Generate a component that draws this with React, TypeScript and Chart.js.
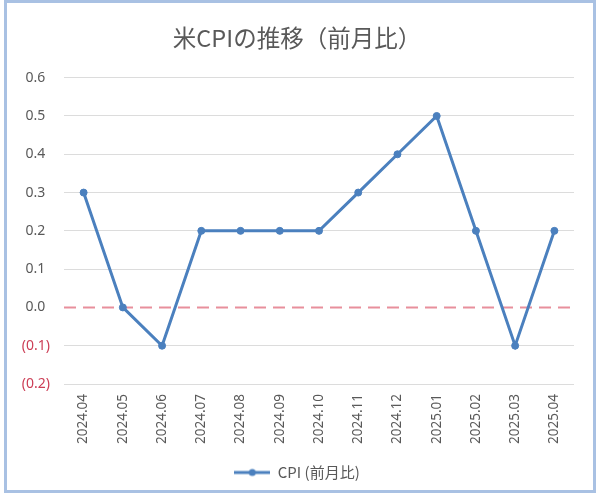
import React, { useEffect, useRef } from "react";
import { Chart, registerables } from "chart.js";

Chart.register(...registerables);

const TITLE = "米CPIの推移（前月比）";
const SERIES_NAME = "CPI (前月比)";
const months = [
  "2024.04", "2024.05", "2024.06", "2024.07", "2024.08", "2024.09", "2024.10",
  "2024.11", "2024.12", "2025.01", "2025.02", "2025.03", "2025.04",
];
const cpiMoM = [0.3, 0.0, -0.1, 0.2, 0.2, 0.2, 0.2, 0.3, 0.4, 0.5, 0.2, -0.1, 0.2];
const yMin = -0.2;
const yMax = 0.6;
const yStep = 0.1;
const referenceValue = 0;

const LINE_COLOR = "#4b80be";
const TEXT_COLOR = "#595959";
const NEG_COLOR = "#cc3d55";
const GRID_COLOR = "#dcdcdc";
const ZERO_COLOR = "#e88f9c";

function makeLegendIcon(): HTMLCanvasElement {
  const c = document.createElement("canvas");
  c.width = 36;
  c.height = 10;
  const g = c.getContext("2d")!;
  g.strokeStyle = LINE_COLOR;
  g.lineWidth = 3;
  g.beginPath();
  g.moveTo(0, 5);
  g.lineTo(36, 5);
  g.stroke();
  g.fillStyle = LINE_COLOR;
  g.beginPath();
  g.arc(18, 5, 3.5, 0, Math.PI * 2);
  g.fill();
  return c;
}

const zeroLinePlugin = {
  id: "zeroLine",
  beforeDatasetsDraw(chart: any) {
    const { ctx, chartArea, scales } = chart;
    const y = scales.y.getPixelForValue(referenceValue);
    ctx.save();
    ctx.strokeStyle = ZERO_COLOR;
    ctx.lineWidth = 2;
    ctx.setLineDash([12, 7]);
    ctx.beginPath();
    ctx.moveTo(chartArea.left, y);
    ctx.lineTo(chartArea.right, y);
    ctx.stroke();
    ctx.restore();
  },
};

export default function App() {
  const ref = useRef<HTMLCanvasElement>(null);

  useEffect(() => {
    if (!ref.current) return;
    const icon = makeLegendIcon();
    const chart = new Chart(ref.current, {
      type: "line",
      data: {
        labels: months,
        datasets: [
          {
            label: SERIES_NAME,
            data: cpiMoM,
            borderColor: LINE_COLOR,
            backgroundColor: LINE_COLOR,
            borderWidth: 3,
            pointStyle: "circle",
            pointRadius: 3.5,
            pointBackgroundColor: LINE_COLOR,
            pointBorderColor: LINE_COLOR,
            pointBorderWidth: 1,
            tension: 0,
          },
        ],
      },
      options: {
        responsive: false,
        animation: false,
        layout: { padding: { left: 20, right: 26, top: 0, bottom: 9 } },
        plugins: {
          title: {
            display: true,
            text: TITLE,
            color: TEXT_COLOR,
            font: { family: "'Noto Sans CJK JP', 'Noto Sans', sans-serif", size: 23.5, weight: "normal" },
            padding: { top: 24, bottom: 25.5 },
          },
          legend: {
            position: "bottom",
            labels: {
              usePointStyle: true,
              pointStyleWidth: 36,
              color: TEXT_COLOR,
              font: { family: "'Noto Sans CJK JP', 'Noto Sans', sans-serif", size: 15 },
              padding: 9,
              generateLabels: () => [
                {
                  text: SERIES_NAME,
                  pointStyle: icon,
                  fillStyle: LINE_COLOR,
                  strokeStyle: LINE_COLOR,
                  lineWidth: 0,
                  hidden: false,
                  datasetIndex: 0,
                  fontColor: TEXT_COLOR,
                },
              ],
            },
          },
          tooltip: { enabled: false },
        },
        scales: {
          x: {
            offset: true,
            grid: { display: false, drawTicks: false },
            border: { display: false },
            ticks: {
              minRotation: 90,
              maxRotation: 90,
              autoSkip: false,
              padding: 10,
              color: TEXT_COLOR,
              font: { family: "'Noto Sans', sans-serif", size: 13.5 },
            },
            afterFit: (scale: any) => {
              scale.height = 72;
            },
          },
          y: {
            min: yMin,
            max: yMax,
            grid: {
              drawTicks: false,
              color: (c: any) => (Math.abs(c.tick.value - referenceValue) < 1e-9 ? "rgba(0,0,0,0)" : GRID_COLOR),
              lineWidth: 1,
            },
            border: { display: false },
            ticks: {
              stepSize: yStep,
              padding: 14,
              color: (c: any) => (c.tick.value < -1e-9 ? NEG_COLOR : TEXT_COLOR),
              font: { family: "'Noto Sans', sans-serif", size: 14 },
              callback: (v: any) => {
                const n = Number(v);
                const s = Math.abs(n).toFixed(1);
                return n < -1e-9 ? `(${s})` : `${s}\u2004`;
              },
            },
            afterFit: (scale: any) => {
              scale.width = 44;
            },
          },
        },
      },
      plugins: [zeroLinePlugin],
    });
    return () => chart.destroy();
  }, []);

  return (
    <div style={{ position: "fixed", left: 0, top: 0, width: 600, height: 499, background: "#ffffff" }}>
      <canvas ref={ref} width={600} height={499} style={{ position: "absolute", left: 0, top: 0, width: 600, height: 499 }} />
      <div
        style={{
          position: "absolute",
          left: 4,
          top: 0,
          width: 592,
          height: 493,
          border: "3px solid #a9c1e3",
          boxSizing: "border-box",
          pointerEvents: "none",
        }}
      />
    </div>
  );
}
